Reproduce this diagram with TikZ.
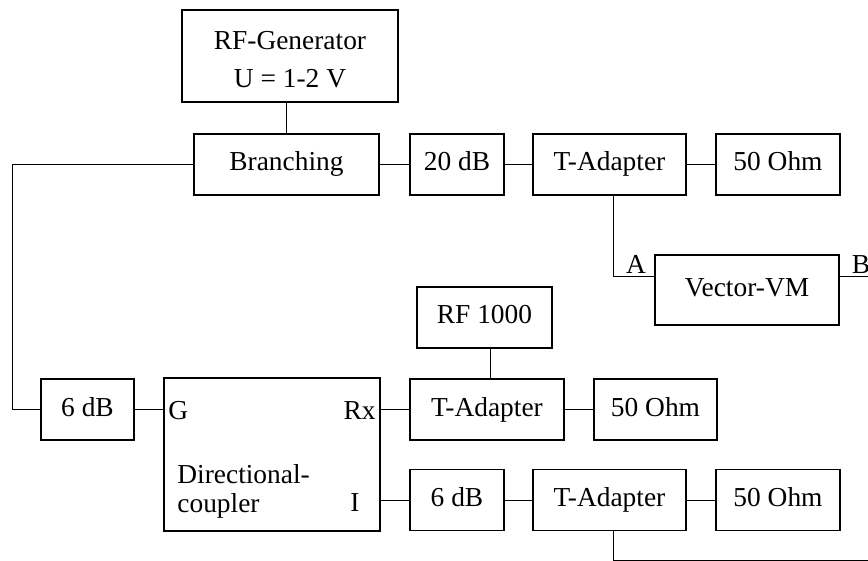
\documentclass[tikz,border=0pt]{standalone}
\usepackage{fontspec}
\setmainfont{Liberation Serif}
\begin{document}
\begin{tikzpicture}[x=0.5pt,y=-0.5pt,
  bigbox/.style={draw,line width=0.8pt,inner sep=0pt},
  box/.style={bigbox,minimum height=30.5pt,text height=9.5pt,text depth=3pt},
  wire/.style={line width=0.5pt},
  lbl/.style={inner sep=0pt,text height=9pt,text depth=0pt},
  every node/.style={font=\fontsize{13.7}{14.5}\selectfont}]
\useasboundingbox (0,0) rectangle (868,561);
% upper chain
\node[bigbox,minimum width=108pt,minimum height=46pt,align=center,text height=35pt,text depth=3pt] (gen) at (290,56) {RF-Generator\\[4.5pt]U = 1-2 V};
\node[box,minimum width=92.5pt] (branch) at (286.5,164.5) {Branching};
\node[box,minimum width=47pt] (att20) at (457,164.5) {20 dB};
\node[box,minimum width=76.5pt] (tadA) at (609.5,164.5) {T-Adapter};
\node[box,minimum width=62pt] (loadA) at (778,164.5) {50 Ohm};
\node[box,minimum width=92pt,minimum height=35pt] (vvm) at (747,290) {Vector-VM};
\node[lbl] (portA) at (636,265) {A};
\node[lbl] (portB) at (861,265) {B};
% lower chain
\node[box,minimum width=67.5pt] (rf) at (484.5,317.5) {RF 1000};
\node[box,minimum width=46.5pt] (att6A) at (87.5,409.5) {6 dB};
\node[bigbox,minimum width=108pt,minimum height=76.5pt] (coupler) at (272,454.5) {};
\node[box,minimum width=77pt] (tadB) at (487,409.5) {T-Adapter};
\node[box,minimum width=61.5pt] (loadB) at (655.5,409.5) {50 Ohm};
\node[box,minimum width=47pt] (att6B) at (457,500) {6 dB};
\node[box,minimum width=76.5pt] (tadC) at (609.5,500) {T-Adapter};
\node[box,minimum width=62pt] (loadC) at (778,500) {50 Ohm};
% coupler ports
\node[lbl,anchor=west] (portG) at (168,410) {G};
\node[lbl,anchor=east] (portRx) at (376,410) {Rx};
\node[lbl,anchor=east] (portI) at (360,502) {I};
\node[inner sep=0pt,anchor=west,align=left] (dctext) at (177,491) {Directional-\\coupler};
% free ends
\coordinate (bend) at (12,164.5);
\coordinate (outB) at (868,277);
\coordinate (outC) at (868,560);
% connectors
\draw[wire] (branch.north) -- (branch.north |- gen.south);
\draw[wire] (branch.east) -- (att20.west);
\draw[wire] (att20.east) -- (tadA.west);
\draw[wire] (tadA.east) -- (loadA.west);
\draw[wire] ([xshift=1.75pt]tadA.south) |- ([yshift=6.5pt]vvm.west);
\draw[wire] ([yshift=6.5pt]vvm.east) -- (outB);
\draw[wire] (branch.west) -- (bend) |- (att6A.west);
\draw[wire] (att6A.east) -- (att6A.east -| coupler.west);
\draw[wire] ([xshift=3pt]rf.south) -- ([xshift=3pt]rf.south |- tadB.north);
\draw[wire] (tadB.west -| coupler.east) -- (tadB.west);
\draw[wire] (tadB.east) -- (loadB.west);
\draw[wire] (att6B.west -| coupler.east) -- (att6B.west);
\draw[wire] (att6B.east) -- (tadC.west);
\draw[wire] (tadC.east) -- (loadC.west);
\draw[wire] ([xshift=1.75pt]tadC.south) |- (outC);
\end{tikzpicture}
\end{document}
